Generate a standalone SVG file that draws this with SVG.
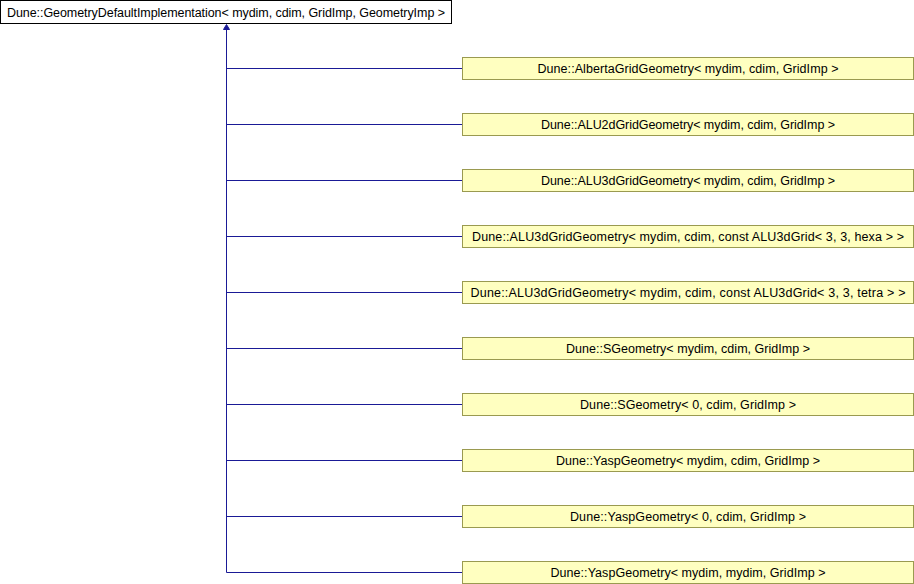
<svg xmlns="http://www.w3.org/2000/svg" width="914" height="584" viewBox="0 0 914 584">
<style>
.base rect{fill:#ffffff;stroke:#000000;stroke-width:1}
.node rect{fill:#ffffc0;stroke:#9a9a50;stroke-width:1}
text{font-family:"Liberation Sans",Arial,sans-serif;font-size:12.5px;fill:#000000;text-anchor:middle}
.edges path{fill:none;stroke:#1a1a96;stroke-width:1}
.edges path.head{fill:#1a1a96}
</style>
<rect width="914" height="584" fill="#ffffff"/>
<g class="edges" id="connectors">
<path d="M226.5,572.5 V29"/>
<path class="head" d="M226.5,24.5 L229.5,29.5 H223.5 Z"/>
<path d="M226.5,68.5 H462"/>
<path d="M226.5,124.5 H462"/>
<path d="M226.5,180.5 H462"/>
<path d="M226.5,236.5 H462"/>
<path d="M226.5,292.5 H462"/>
<path d="M226.5,348.5 H462"/>
<path d="M226.5,404.5 H462"/>
<path d="M226.5,460.5 H462"/>
<path d="M226.5,516.5 H462"/>
<path d="M226.5,572.5 H462"/>
</g>
<g class="base" id="node-base"><rect x="0.5" y="0.5" width="451" height="23"/><text x="226" y="16.5" textLength="438" lengthAdjust="spacing">Dune::GeometryDefaultImplementation&lt; mydim, cdim, GridImp, GeometryImp &gt;</text></g>
<g class="node" id="node-1"><rect x="462.5" y="57.5" width="451" height="22"/><text x="688" y="73" textLength="301" lengthAdjust="spacing">Dune::AlbertaGridGeometry&lt; mydim, cdim, GridImp &gt;</text></g>
<g class="node" id="node-2"><rect x="462.5" y="113.5" width="451" height="22"/><text x="688" y="129" textLength="294" lengthAdjust="spacing">Dune::ALU2dGridGeometry&lt; mydim, cdim, GridImp &gt;</text></g>
<g class="node" id="node-3"><rect x="462.5" y="169.5" width="451" height="22"/><text x="688" y="185" textLength="294" lengthAdjust="spacing">Dune::ALU3dGridGeometry&lt; mydim, cdim, GridImp &gt;</text></g>
<g class="node" id="node-4"><rect x="462.5" y="225.5" width="451" height="22"/><text x="688" y="241" textLength="432" lengthAdjust="spacing">Dune::ALU3dGridGeometry&lt; mydim, cdim, const ALU3dGrid&lt; 3, 3, hexa &gt; &gt;</text></g>
<g class="node" id="node-5"><rect x="462.5" y="281.5" width="451" height="22"/><text x="688" y="297" textLength="435" lengthAdjust="spacing">Dune::ALU3dGridGeometry&lt; mydim, cdim, const ALU3dGrid&lt; 3, 3, tetra &gt; &gt;</text></g>
<g class="node" id="node-6"><rect x="462.5" y="337.5" width="451" height="22"/><text x="688" y="353" textLength="244" lengthAdjust="spacing">Dune::SGeometry&lt; mydim, cdim, GridImp &gt;</text></g>
<g class="node" id="node-7"><rect x="462.5" y="393.5" width="451" height="22"/><text x="688" y="409" textLength="216" lengthAdjust="spacing">Dune::SGeometry&lt; 0, cdim, GridImp &gt;</text></g>
<g class="node" id="node-8"><rect x="462.5" y="449.5" width="451" height="22"/><text x="688" y="465" textLength="264" lengthAdjust="spacing">Dune::YaspGeometry&lt; mydim, cdim, GridImp &gt;</text></g>
<g class="node" id="node-9"><rect x="462.5" y="505.5" width="451" height="22"/><text x="688" y="521" textLength="236" lengthAdjust="spacing">Dune::YaspGeometry&lt; 0, cdim, GridImp &gt;</text></g>
<g class="node" id="node-10"><rect x="462.5" y="561.5" width="451" height="22"/><text x="688" y="577" textLength="275" lengthAdjust="spacing">Dune::YaspGeometry&lt; mydim, mydim, GridImp &gt;</text></g>
</svg>
